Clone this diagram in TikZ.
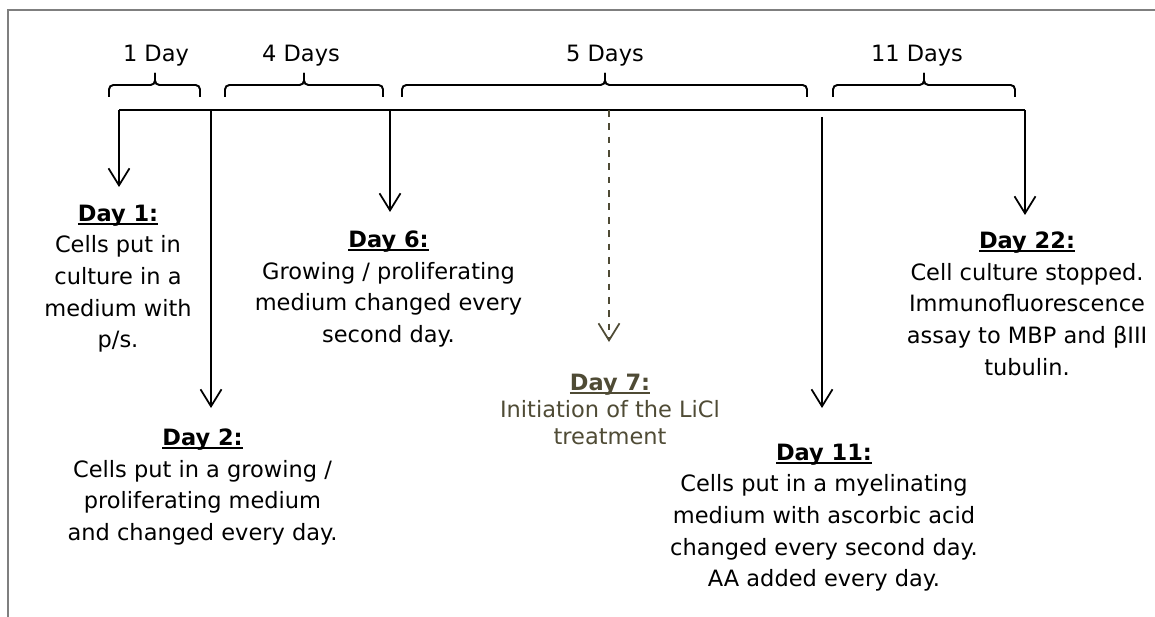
\documentclass[tikz,border=0pt]{standalone}
\usepackage{fontspec}
\setmainfont{DejaVu Sans}
\usetikzlibrary{arrows.meta}

\definecolor{licl}{HTML}{4F4B35}
\definecolor{rahmen}{HTML}{7F7F7F}

% fett und unterstrichen, Linie dicht unter der Grundlinie
\newcommand{\tagkopf}[1]{\setbox0=\hbox{\textbf{#1}}\rlap{\rule[-1.9pt]{\wd0}{0.9pt}}\box0}

\begin{document}
\begin{tikzpicture}[
    pfeil/.style={line width=1pt,-{Straight Barb[length=0.34cm,width=0.42cm]}},
    klammer/.style={line width=1.1pt,rounded corners=2.5pt},
    tag/.style={anchor=north,inner sep=0pt,align=center,font=\fontsize{12.8}{18}\selectfont},
    dauer/.style={anchor=base,inner sep=0pt,font=\fontsize{12.8}{18}\selectfont}]

  \useasboundingbox (0,0) rectangle (23.1,12.32);

  % Rahmen
  \draw[line width=1.2pt,rahmen] (0.16,-1) -- (0.16,12.12) -- (24,12.12);

  % Zeitachse
  \draw[line width=1.4pt] (2.38,10.12) -- (20.50,10.12);

  % Klammern mit Dauer
  \foreach \a/\m/\b/\l/\txt [count=\i] in {2.18/3.10/4.00/3.12/1 Day, 4.50/6.08/7.66/6.02/4 Days,
      8.04/12.10/16.14/12.10/5 Days, 16.66/18.48/20.30/18.34/11 Days}{
    \draw[klammer] (\a,10.38) -- (\a,10.62) -- (\m,10.62) -- (\m,10.86);
    \draw[klammer] (\b,10.38) -- (\b,10.62) -- (\m,10.62) -- (\m,10.86);
    \node[dauer] (dauer\i) at (\l,11.09) {\txt};
  }

  % Zeitpunkte auf der Achse
  \coordinate (t1) at (2.38,10.12);
  \coordinate (t2) at (4.22,10.12);
  \coordinate (t6) at (7.80,10.12);
  \coordinate (t7) at (12.18,10.12);
  \coordinate (t11) at (16.44,9.98);
  \coordinate (t22) at (20.50,10.12);

  % Pfeilspitzen
  \coordinate (a1) at (2.38,8.58);
  \coordinate (a2) at (4.22,4.16);
  \coordinate (a6) at (7.80,8.08);
  \coordinate (a7) at (12.18,5.48);
  \coordinate (a11) at (16.44,4.16);
  \coordinate (a22) at (20.50,8.02);

  % Pfeile
  \draw[pfeil] (t1) -- (a1);
  \draw[pfeil] (t2) -- (a2);
  \draw[pfeil] (t6) -- (a6);
  \draw[pfeil,licl,dash pattern=on 3.8pt off 3.8pt] (t7) -- (a7);
  \draw[pfeil] (t11) -- (a11);
  \draw[pfeil] (t22) -- (a22);

  % Beschriftungen
  \node[tag] (tag1) at (2.36,8.23) {\tagkopf{Day 1:}\\Cells put in\\culture in a\\medium with\\p/s.};
  \node[tag] (tag2) at (4.05,3.75) {\tagkopf{Day 2:}\\Cells put in a growing /\\proliferating medium\\and changed every day.};
  \node[tag] (tag6) at (7.77,7.71) {\tagkopf{Day 6:}\\Growing / proliferating\\medium changed every\\second day.};
  \node[tag,licl,font=\fontsize{12.8}{15.4}\selectfont] (tag7) at (12.20,4.85) {\tagkopf{Day 7:}\\Initiation of the LiCl\\treatment};
  \node[tag] (tag11) at (16.48,3.45) {\tagkopf{Day 11:}\\Cells put in a myelinating\\medium with ascorbic acid\\changed every second day.\\AA added every day.};
  \node[tag] (tag22) at (20.54,7.69) {\tagkopf{Day 22:}\\Cell culture stopped.\\Immunofluorescence\\assay to MBP and βIII\\tubulin.};

\end{tikzpicture}
\end{document}
